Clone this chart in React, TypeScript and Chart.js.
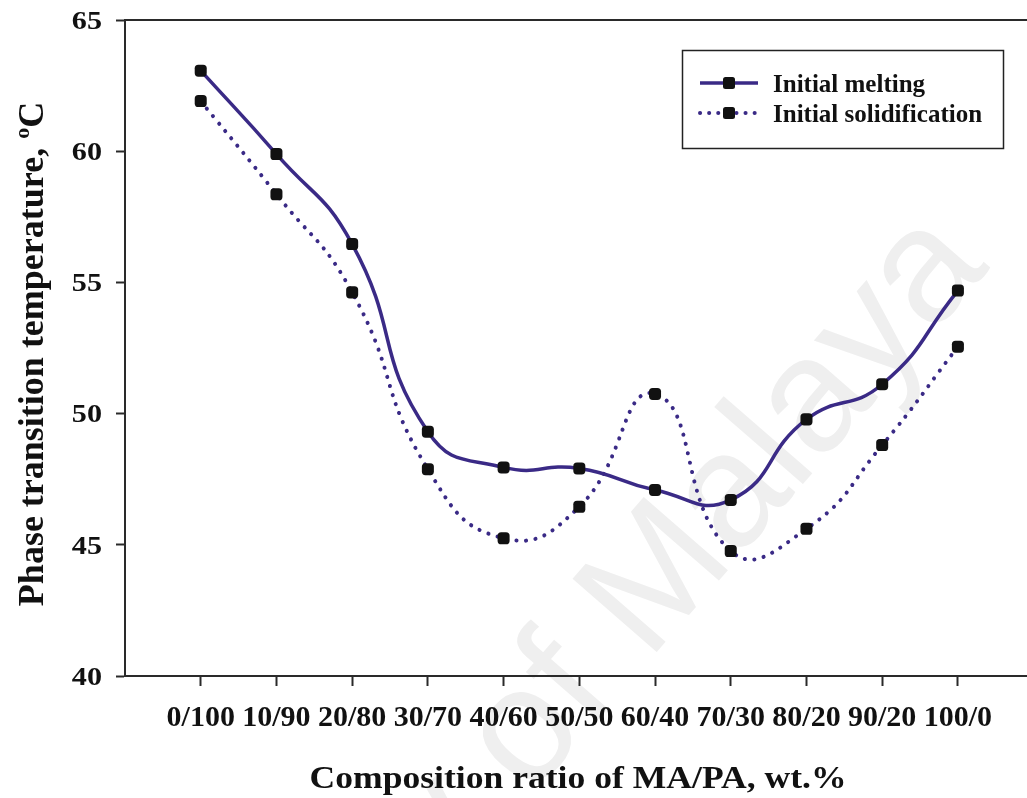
import React, { useEffect, useRef } from "react";
import { Chart, registerables } from "chart.js";

Chart.register(...registerables);

const categories = ["0/100", "10/90", "20/80", "30/70", "40/60", "50/50", "60/40", "70/30", "80/20", "90/20", "100/0"];
const meltingValues = [63.07, 59.89, 56.46, 49.31, 47.95, 47.91, 47.09, 46.71, 49.78, 51.12, 54.69];
const solidificationValues = [61.91, 58.36, 54.62, 47.88, 45.25, 46.45, 50.75, 44.76, 45.61, 48.8, 52.55];
const yTickValues = [40, 45, 50, 55, 60, 65];
const seriesNames = ["Initial melting", "Initial solidification"];
const xTitle = "Composition ratio of MA/PA, wt.%";
const yTitleMain = "Phase transition temperature, ";
const yTitleSup = "o";
const yTitleUnit = "C";
const watermark = "University of Malaya";

const LINE = "#3a2a86";
const MARK = "#111111";
const AXIS = "#2a2a2a";
const SERIF = "'Liberation Serif', 'Times New Roman', serif";

const decorPlugin = {
  id: "decor",
  beforeDraw(chart: any) {
    const { ctx } = chart;
    ctx.save();
    ctx.fillStyle = "#ffffff";
    ctx.fillRect(0, 0, chart.width, chart.height);
    // faint watermark
    ctx.translate(648, 662);
    ctx.rotate((-49 * Math.PI) / 180);
    ctx.font = "162px 'Liberation Sans', Arial, sans-serif";
    ctx.fillStyle = "#efefef";
    ctx.textBaseline = "alphabetic";
    ctx.textAlign = "left";
    const pre = ctx.measureText("University of ").width;
    ctx.fillText(watermark, -pre, 0);
    ctx.restore();
  },
  afterDraw(chart: any) {
    const { ctx, chartArea } = chart;
    const yScale = chart.scales.y;
    ctx.save();
    // top frame line and bottom axis extension to the edge
    ctx.strokeStyle = AXIS;
    ctx.lineWidth = 2;
    ctx.beginPath();
    ctx.moveTo(chartArea.left, chartArea.top);
    ctx.lineTo(chart.width, chartArea.top);
    ctx.moveTo(chartArea.right - 2, Math.round(chartArea.bottom));
    ctx.lineTo(chart.width, Math.round(chartArea.bottom));
    ctx.stroke();

    // y tick labels (slightly wide)
    ctx.fillStyle = "#111";
    ctx.font = `bold 26px ${SERIF}`;
    ctx.textAlign = "right";
    ctx.textBaseline = "middle";
    yTickValues.forEach((v) => {
      const py = yScale.getPixelForValue(v);
      ctx.save();
      ctx.translate(102, py + 2);
      ctx.scale(1.16, 1);
      ctx.fillText(String(v), 0, 0);
      ctx.restore();
    });

    // x title
    ctx.save();
    ctx.font = `bold 31px ${SERIF}`;
    ctx.textAlign = "center";
    ctx.textBaseline = "alphabetic";
    const w = ctx.measureText(xTitle).width;
    ctx.translate(578, 788);
    ctx.scale(537 / w, 1);
    ctx.fillText(xTitle, 0, 0);
    ctx.restore();

    // y title with superscript
    ctx.save();
    ctx.translate(43, 354);
    ctx.rotate(-Math.PI / 2);
    ctx.textAlign = "left";
    ctx.textBaseline = "alphabetic";
    ctx.font = `bold 36px ${SERIF}`;
    const w1 = ctx.measureText(yTitleMain).width;
    const w3 = ctx.measureText(yTitleUnit).width;
    ctx.font = `bold 22px ${SERIF}`;
    const w2 = ctx.measureText(yTitleSup).width;
    const total = w1 + w2 + w3;
    let x0 = -total / 2;
    ctx.font = `bold 36px ${SERIF}`;
    ctx.fillText(yTitleMain, x0, 0);
    x0 += w1;
    ctx.font = `bold 22px ${SERIF}`;
    ctx.fillText(yTitleSup, x0, -14);
    x0 += w2;
    ctx.font = `bold 36px ${SERIF}`;
    ctx.fillText(yTitleUnit, x0, 0);
    ctx.restore();

    // legend
    ctx.strokeStyle = "#222";
    ctx.lineWidth = 1.5;
    ctx.strokeRect(682.5, 50.5, 321, 98);
    const rows = [83, 113];
    rows.forEach((ry, i) => {
      ctx.save();
      ctx.strokeStyle = LINE;
      if (i === 0) {
        ctx.lineWidth = 3.5;
        ctx.setLineDash([]);
      } else {
        ctx.lineWidth = 4;
        ctx.lineCap = "round";
        ctx.setLineDash([0.1, 9]);
      }
      ctx.beginPath();
      ctx.moveTo(700, ry);
      ctx.lineTo(758, ry);
      ctx.stroke();
      ctx.restore();
      ctx.fillStyle = MARK;
      ctx.beginPath();
      ctx.roundRect(723, ry - 6, 12, 12, 2.5);
      ctx.fill();
      ctx.fillStyle = "#111";
      ctx.font = `bold 25px ${SERIF}`;
      ctx.textAlign = "left";
      ctx.textBaseline = "alphabetic";
      ctx.fillText(seriesNames[i], 773, ry + 9);
    });
    ctx.restore();
  },
};

export default function App() {
  const ref = useRef<HTMLCanvasElement | null>(null);
  useEffect(() => {
    if (!ref.current) return;
    const chart = new Chart(ref.current, {
      type: "line",
      data: {
        datasets: [
          {
            label: seriesNames[0],
            data: meltingValues.map((v, i) => ({ x: i, y: v })),
            borderColor: LINE,
            borderWidth: 3.5,
            tension: 0.5,
            pointStyle: "rectRounded",
            pointRadius: 7,
            pointBackgroundColor: MARK,
            pointBorderWidth: 0,
            fill: false,
          },
          {
            label: seriesNames[1],
            data: solidificationValues.map((v, i) => ({ x: i, y: v })),
            borderColor: LINE,
            borderWidth: 4,
            borderDash: [0.1, 9.5],
            borderCapStyle: "round",
            tension: 0.5,
            pointStyle: "rectRounded",
            pointRadius: 7,
            pointBackgroundColor: MARK,
            pointBorderWidth: 0,
            fill: false,
          },
        ],
      },
      options: {
        animation: false,
        responsive: false,
        layout: { padding: { top: 20, right: 0, left: 0, bottom: 0 } },
        plugins: { legend: { display: false }, tooltip: { enabled: false } },
        scales: {
          x: {
            type: "linear",
            min: -1,
            max: 10.82,
            afterBuildTicks: (scale: any) => {
              scale.ticks = categories.map((_, i) => ({ value: i }));
            },
            afterFit: (scale: any) => {
              scale.height = 122;
              scale.paddingLeft = 0;
              scale.paddingRight = 0;
            },
            ticks: {
              autoSkip: false,
              maxRotation: 0,
              minRotation: 0,
              padding: 14,
              color: "#111",
              font: { family: SERIF, size: 30, weight: "bold" },
              callback: (v: any) => categories[Math.round(Number(v))] ?? "",
            },
            grid: {
              drawOnChartArea: false,
              drawTicks: true,
              tickLength: 10,
              tickWidth: 2,
              tickColor: AXIS,
            },
            border: { display: true, color: AXIS, width: 2 },
          },
          y: {
            type: "linear",
            min: 40,
            max: 65,
            afterBuildTicks: (scale: any) => {
              scale.ticks = yTickValues.map((v) => ({ value: v }));
            },
            afterFit: (scale: any) => {
              scale.width = 125;
            },
            ticks: { display: false },
            grid: {
              drawOnChartArea: false,
              drawTicks: true,
              tickLength: 9,
              tickWidth: 2,
              tickColor: AXIS,
            },
            border: { display: true, color: AXIS, width: 2 },
          },
        },
      },
      plugins: [decorPlugin],
    } as any);
    return () => chart.destroy();
  }, []);
  return (
    <div style={{ position: "absolute", left: 0, top: 0, width: 1027, height: 798, overflow: "hidden", background: "#fff" }}>
      <canvas ref={ref} width={1027} height={798} style={{ display: "block" }} />
    </div>
  );
}
